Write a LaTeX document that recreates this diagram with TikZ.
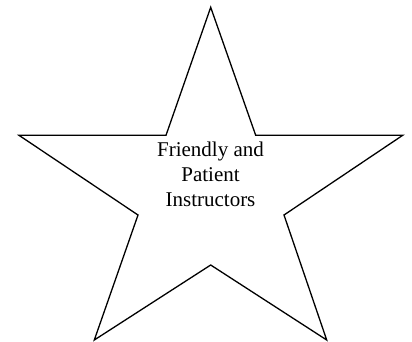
\documentclass[tikz,border=0pt]{standalone}
\usepackage{fontspec}
\setmainfont{Liberation Serif}
\usetikzlibrary{positioning}

\begin{document}
\begin{tikzpicture}[x=1pt, y=-1pt, thick, line join=miter,
    starline/.style={draw=black, line width=1.3pt},
    starlabel/.style={align=center, font=\fontsize{21}{25}\selectfont, inner sep=0pt}]
    \useasboundingbox (0,0) rectangle (412,341);
    % Star corners
    \coordinate (top) at (210.7,7.3);
    \coordinate (inTL) at (166,135.3);
    \coordinate (tipL) at (19,135.3);
    \coordinate (inL) at (138,215);
    \coordinate (tipBL) at (94.3,340);
    \coordinate (inB) at (210.7,265);
    \coordinate (tipBR) at (326.7,340);
    \coordinate (inR) at (284,215);
    \coordinate (tipR) at (402.7,135.3);
    \coordinate (inTR) at (255.7,135.3);
    % Star outline
    \draw[starline] (top) -- (inTL) -- (tipL) -- (inL) -- (tipBL) -- (inB)
        -- (tipBR) -- (inR) -- (tipR) -- (inTR) -- cycle;
    % Label
    \node[starlabel, anchor=base] (label) at (210.5,206) {Friendly and\\Patient\\Instructors};
\end{tikzpicture}
\end{document}
